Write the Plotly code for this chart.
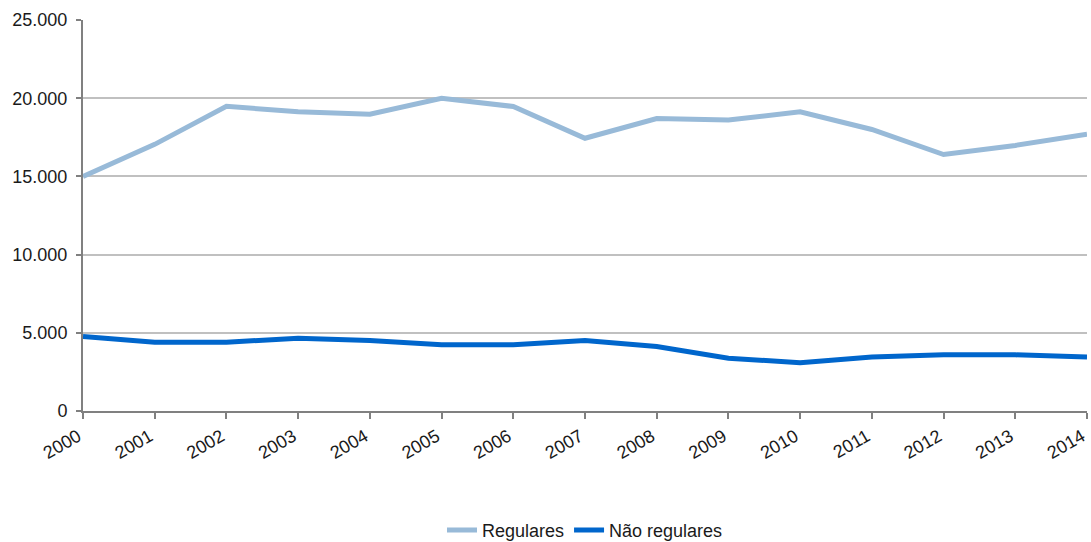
import plotly.graph_objects as go

years = list(range(2000, 2015))
regulares = [15000, 17050, 19480, 19130, 18980, 20000, 19470, 17440, 18700, 18600, 19130, 18000, 16400, 16980, 17700]
nao_regulares = [4760, 4400, 4400, 4650, 4500, 4240, 4240, 4500, 4130, 3380, 3090, 3460, 3590, 3590, 3460]
y_ticks = [0, 5000, 10000, 15000, 20000, 25000]
y_tick_labels = ["0", "5.000", "10.000", "15.000", "20.000", "25.000"]

FONT = "Liberation Sans Narrow, Arial Narrow, Liberation Sans, Arial, sans-serif"

fig = go.Figure()
fig.add_trace(go.Scatter(x=years, y=regulares, mode="lines", name="Regulares",
                         line=dict(color="#98BAD8", width=5), cliponaxis=False))
fig.add_trace(go.Scatter(x=years, y=nao_regulares, mode="lines", name="Não regulares",
                         line=dict(color="#0066CC", width=5), cliponaxis=False))

fig.update_layout(
    width=1091, height=542,
    margin=dict(l=83, r=4, t=20, b=131, autoexpand=False),
    plot_bgcolor="white", paper_bgcolor="white",
    font=dict(family=FONT, size=18, color="#1a1a1a"),
    showlegend=True,
    legend=dict(orientation="h", x=0.5, xanchor="center", y=-0.305, yanchor="middle",
                font=dict(family=FONT, size=18), tracegroupgap=0),
)
fig.update_xaxes(
    range=[2000, 2014], tickmode="array", tickvals=years, ticktext=[str(y) for y in years],
    tickangle=-30, showline=True, linecolor="#808080", linewidth=2,
    ticks="outside", ticklen=6, tickcolor="#808080", tickwidth=2, automargin=False,
    ticklabeloverflow="allow", ticklabelshift=-5,
    showgrid=False, zeroline=False, tickfont=dict(family=FONT, size=18),
)
fig.update_yaxes(
    range=[0, 25000], tickmode="array", tickvals=y_ticks, ticktext=y_tick_labels,
    showline=True, linecolor="#808080", linewidth=2, automargin=False,
    ticks="outside", ticklen=5, tickcolor="#808080", tickwidth=2, ticklabelstandoff=5,
    showgrid=True, gridcolor="#c0c0c0", gridwidth=2, zeroline=False,
    tickfont=dict(family=FONT, size=18),
)

fig.write_html("out.html", config={"displayModeBar": False},
               post_script="document.body.style.margin='0';document.body.style.padding='0';document.body.style.overflow='hidden';")
